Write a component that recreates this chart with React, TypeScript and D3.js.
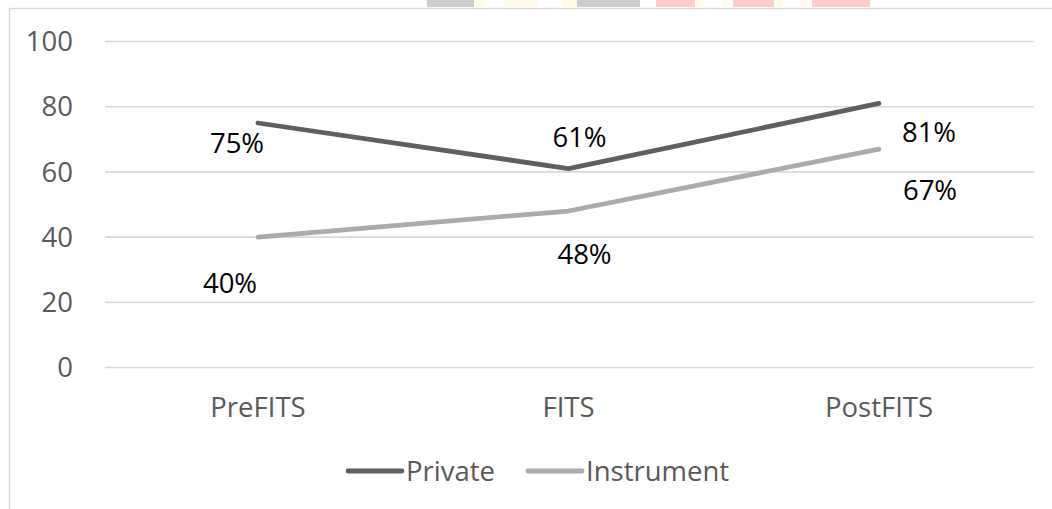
import React from "react";
import * as d3 from "d3";

const categories = ["PreFITS", "FITS", "PostFITS"];
const privateValues = [75, 61, 81];
const instrumentValues = [40, 48, 67];
const yTicks = [0, 20, 40, 60, 80, 100];
const seriesNames = ["Private", "Instrument"];

const W = 1052;
const H = 509;
const FONT = "'Open Sans', 'Liberation Sans', sans-serif";
const FS = 27.5;

const colors = ["#5f5f5f", "#ababab"];

// label offsets from each point, per series
const labelOffsets = [
  [
    [-21, 20],
    [11, -31],
    [50, 29],
  ],
  [
    [-28, 46],
    [16, 43],
    [51, 41],
  ],
];

// banner strip peeking above the chart frame
const bannerBlocks: [number, number, string][] = [
  [427, 474, "#cccccc"],
  [475, 484, "#fffbe6"],
  [504, 538, "#fffbe6"],
  [563, 577, "#fffbe6"],
  [577, 640, "#cccccc"],
  [656, 695, "#ffcccc"],
  [696, 704, "#fffbe6"],
  [723, 730, "#fffbe6"],
  [733, 774, "#ffcccc"],
  [776, 783, "#fffbe6"],
  [803, 810, "#fffbe6"],
  [812, 870, "#ffcccc"],
];

export default function App() {
  const x = d3
    .scalePoint<string>()
    .domain(categories)
    .range([258, 879]);
  const y = d3.scaleLinear().domain([0, 100]).range([367.5, 41.5]);

  const series = [privateValues, instrumentValues];
  const line = d3
    .line<number>()
    .x((_, i) => x(categories[i]) as number)
    .y((d) => y(d));

  const gridX0 = 105;
  const gridX1 = 1034;

  return (
    <svg
      width={W}
      height={H}
      viewBox={`0 0 ${W} ${H}`}
      style={{ position: "absolute", left: 0, top: 0, display: "block", background: "#fff" }}
    >
      <rect x={0} y={0} width={W} height={H} fill="#ffffff" />
      {bannerBlocks.map(([a, b, c], i) => (
        <rect key={i} x={a} y={0} width={b - a} height={7} fill={c} />
      ))}
      <rect
        x={9.5}
        y={8.5}
        width={1200}
        height={700}
        fill="#ffffff"
        stroke="#d9d9d9"
        strokeWidth={1.3}
      />

      {yTicks.map((t) => (
        <g key={t}>
          <line
            x1={gridX0}
            x2={gridX1}
            y1={y(t)}
            y2={y(t)}
            stroke="#d9d9d9"
            strokeWidth={1.6}
          />
          <text
            x={73}
            y={y(t)}
            dy="0.35em"
            textAnchor="end"
            fontFamily={FONT}
            fontSize={FS}
            fill="#595959"
          >
            {t}
          </text>
        </g>
      ))}

      {categories.map((c) => (
        <text
          key={c}
          x={x(c)}
          y={417}
          textAnchor="middle"
          fontFamily={FONT}
          fontSize={FS}
          fill="#595959"
        >
          {c}
        </text>
      ))}

      {series.map((vals, si) => (
        <path
          key={si}
          d={line(vals) ?? ""}
          fill="none"
          stroke={colors[si]}
          strokeWidth={4.8}
          strokeLinecap="round"
          strokeLinejoin="round"
        />
      ))}

      {series.map((vals, si) =>
        vals.map((v, i) => (
          <text
            key={`${si}-${i}`}
            x={(x(categories[i]) as number) + labelOffsets[si][i][0]}
            y={y(v) + labelOffsets[si][i][1]}
            dy="0.35em"
            textAnchor="middle"
            fontFamily={FONT}
            fontSize={FS}
            fill="#000000"
          >
            {`${v}%`}
          </text>
        ))
      )}

      {seriesNames.map((name, si) => {
        const lx = si === 0 ? 348 : 528;
        return (
          <g key={name}>
            <line
              x1={lx}
              x2={lx + 54}
              y1={471}
              y2={471}
              stroke={colors[si]}
              strokeWidth={4.8}
              strokeLinecap="round"
            />
            <text
              x={lx + 58}
              y={471}
              dy="0.35em"
              fontFamily={FONT}
              fontSize={FS}
              fill="#595959"
            >
              {name}
            </text>
          </g>
        );
      })}
    </svg>
  );
}
